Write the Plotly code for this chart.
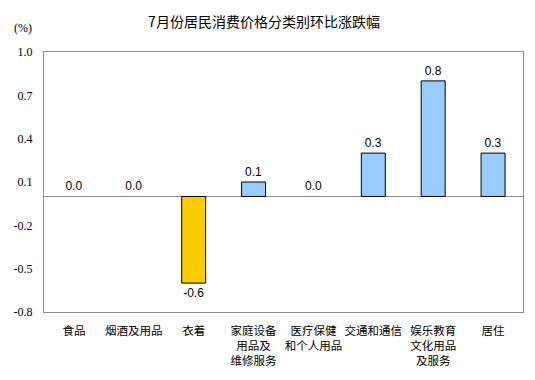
import plotly.graph_objects as go

categories = ["食品", "烟酒及用品", "衣着", "家庭设备<br>用品及<br>维修服务", "医疗保健<br>和个人用品",
              "交通和通信", "娱乐教育<br>文化用品<br>及服务", "居住"]
values = [0.0, 0.0, -0.6, 0.1, 0.0, 0.3, 0.8, 0.3]
labels = ["0.0", "0.0", "-0.6", "0.1", "0.0", "0.3", "0.8", "0.3"]
ytick_vals = [1.0, 0.7, 0.4, 0.1, -0.2, -0.5, -0.8]
ytick_text = ["1.0", "0.7", "0.4", "0.1", "-0.2", "-0.5", "-0.8"]

colors = ["#FFCC00" if v < 0 else "#99CCFF" for v in values]
line_widths = [0 if v == 0 else 1 for v in values]

fig = go.Figure(go.Bar(
    x=list(range(len(categories))), y=values,
    marker=dict(color=colors, line=dict(color="black", width=line_widths)),
    width=0.4,
    text=labels, textposition="outside", texttemplate="%{text}",
    textfont=dict(family="Arial, Liberation Sans", size=12, color="black"),
    cliponaxis=False,
))

# page has 8px body margin; compensate
OFF = 8
W, H = 535 - OFF, 380 - OFF
ml, mr, mt, mb = 44 - OFF, 12, 52 - OFF, 68
fig.update_layout(
    width=W, height=H,
    margin=dict(l=ml, r=mr, t=mt, b=mb, autoexpand=False),
    paper_bgcolor="white", plot_bgcolor="white",
    showlegend=False,
    title=dict(text="7月份居民消费价格分类别环比涨跌幅", x=(264 - OFF)/W, xanchor="center",
               y=1-(22 - OFF)/H, yanchor="middle",
               font=dict(family="Noto Sans CJK SC", size=14, color="black")),
    xaxis=dict(tickmode="array", tickvals=list(range(len(categories))), ticktext=categories,
               range=[-0.5, len(categories)-0.5], showgrid=False, zeroline=False,
               showline=True, mirror=True, linecolor="#8c8c8c", linewidth=1,
               ticks="", tickfont=dict(family="Noto Sans CJK SC", size=11.5, color="black"),
               ticklabelstandoff=8, automargin=False),
    yaxis=dict(range=[-0.8, 1.0], tickmode="array", tickvals=ytick_vals, ticktext=ytick_text,
               showgrid=False, zeroline=True, zerolinecolor="#8c8c8c", zerolinewidth=1,
               showline=True, mirror=True, linecolor="#8c8c8c", linewidth=1,
               ticks="", tickfont=dict(family="Times New Roman, Liberation Serif", size=12, color="black"),
               ticklabelstandoff=8, automargin=False),
    annotations=[dict(text="(%)", xref="paper", yref="paper",
                      x=(12-44)/(W-ml-mr), y=1+(52-28)/(H-mt-mb), xanchor="left", yanchor="middle",
                      showarrow=False,
                      font=dict(family="Times New Roman, Liberation Serif", size=12, color="black"))],
)

fig.write_html("out.html")
